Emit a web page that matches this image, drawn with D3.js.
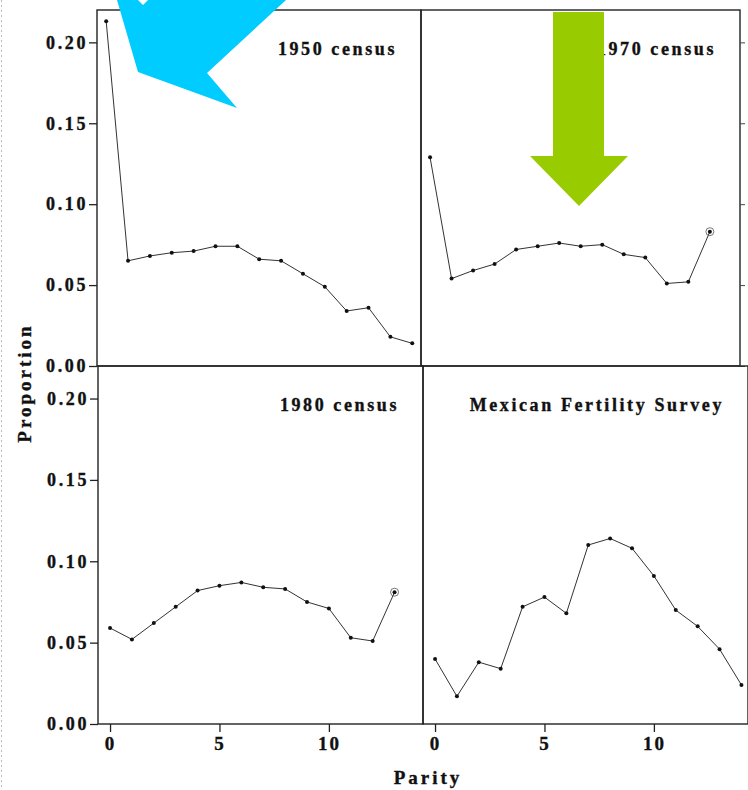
<!DOCTYPE html>
<html lang="en">
<head>
<meta charset="UTF-8">
<title>Parity distributions</title>
<style>
    body { margin: 0; background: #fff; }
    svg text { font-family: "Liberation Serif", "DejaVu Serif", serif; font-weight: bold; fill: #111; stroke: #111; stroke-width: 0.35px; }
</style>
</head>
<body>
<div id="chart"></div>
<script src="https://cdnjs.cloudflare.com/ajax/libs/d3/7.8.5/d3.min.js"></script>
<script>
// data
const parity = [0, 1, 2, 3, 4, 5, 6, 7, 8, 9, 10, 11, 12, 13, 14];
const census1950 = [0.213, 0.065, 0.068, 0.070, 0.071, 0.074, 0.074, 0.066, 0.065, 0.057, 0.049, 0.034, 0.036, 0.018, 0.014];
const census1970 = [0.129, 0.054, 0.059, 0.063, 0.072, 0.074, 0.076, 0.074, 0.075, 0.069, 0.067, 0.051, 0.052, 0.083];
const census1980 = [0.059, 0.052, 0.062, 0.072, 0.082, 0.085, 0.087, 0.084, 0.083, 0.075, 0.071, 0.053, 0.051, 0.081];
const mexicanSurvey = [0.040, 0.017, 0.038, 0.034, 0.072, 0.078, 0.068, 0.110, 0.114, 0.108, 0.091, 0.070, 0.060, 0.046, 0.024];
const panelTitles = ["1950 census", "1970 census", "1980 census", "Mexican Fertility Survey"];
const yTicks = [0, 0.05, 0.10, 0.15, 0.20];
const xTicks = [0, 5, 10];

const W = 748, H = 790;
const svg = d3.select("#chart").append("svg")
    .attr("width", W).attr("height", H);

// page edge (dotted)
svg.append("line")
    .attr("x1", 1.5).attr("x2", 1.5).attr("y1", 0).attr("y2", H)
    .attr("stroke", "#bbb").attr("stroke-dasharray", "2,3");

// panel boxes
const panels = [
    { values: census1950, title: panelTitles[0], x0: 97, x1: 421, y0: 10, y1: 366, xd: [-0.42, 14.4], left: true, bottom: false, ring: false },
    { values: census1970, title: panelTitles[1], x0: 421, x1: 740, y0: 10, y1: 366, xd: [-0.42, 14.4], left: false, bottom: false, ring: true },
    { values: census1980, title: panelTitles[2], x0: 98, x1: 423, y0: 366, y1: 724, xd: [-0.55, 14.3], left: true, bottom: true, ring: true },
    { values: mexicanSurvey, title: panelTitles[3], x0: 423, x1: 748, y0: 366, y1: 724, xd: [-0.55, 14.3], left: false, bottom: true, ring: false }
];

panels.forEach(p => {
    const x = d3.scaleLinear().domain(p.xd).range([p.x0, p.x1]);
    const y = d3.scaleLinear().domain([0, 0.22]).range([p.y1, p.y0]);
    const g = svg.append("g");

    g.append("rect")
        .attr("x", p.x0).attr("y", p.y0)
        .attr("width", p.x1 - p.x0).attr("height", p.y1 - p.y0)
        .attr("fill", "none").attr("stroke", "#222").attr("stroke-width", 1.4);

    if (p.left) {
        const ax = g.append("g")
            .attr("transform", `translate(${p.x0},0)`)
            .call(d3.axisLeft(y).tickValues(yTicks).tickSize(8).tickPadding(1).tickFormat(d3.format(".2f")));
        ax.select(".domain").remove();
        ax.selectAll("line").attr("stroke", "#222").attr("stroke-width", 1.3);
        ax.selectAll("text")
            .attr("font-size", 18).attr("letter-spacing", 2.6)
            .attr("fill", "#111").attr("font-family", null);
    } else {
        const ax = g.append("g")
            .attr("transform", `translate(${p.x1},0)`)
            .call(d3.axisRight(y).tickValues(yTicks).tickSize(5).tickFormat(""));
        ax.select(".domain").remove();
        ax.selectAll("line").attr("stroke", "#444");
    }

    if (p.bottom) {
        const ax = g.append("g")
            .attr("transform", `translate(0,${p.y1})`)
            .call(d3.axisBottom(x).tickValues(xTicks).tickSize(8).tickPadding(5));
        ax.select(".domain").remove();
        ax.selectAll("line").attr("stroke", "#222").attr("stroke-width", 1.3);
        ax.selectAll("text")
            .attr("font-size", 19).attr("letter-spacing", 2)
            .attr("fill", "#111").attr("font-family", null);
    }

    const pts = p.values.map((v, i) => [parity[i], v]);
    g.append("path")
        .datum(pts)
        .attr("fill", "none").attr("stroke", "#333").attr("stroke-width", 1)
        .attr("d", d3.line().x(d => x(d[0])).y(d => y(d[1])));

    g.selectAll("circle.pt").data(pts).enter().append("circle")
        .attr("class", "pt")
        .attr("cx", d => x(d[0])).attr("cy", d => y(d[1]))
        .attr("r", 2).attr("fill", "#111");

    if (p.ring) {
        const last = pts[pts.length - 1];
        g.append("circle")
            .attr("cx", x(last[0])).attr("cy", y(last[1]))
            .attr("r", 4).attr("fill", "none").attr("stroke", "#555").attr("stroke-width", 0.8);
    }

    g.append("text")
        .attr("x", p.x1 - 24).attr("y", p.y0 + 45)
        .attr("text-anchor", "end")
        .attr("font-size", 18).attr("letter-spacing", 2.6)
        .text(p.title);
});

// axis titles
svg.append("text")
    .attr("x", 428).attr("y", 784)
    .attr("text-anchor", "middle")
    .attr("font-size", 19).attr("letter-spacing", 3)
    .text("Parity");

svg.append("text")
    .attr("transform", "translate(31,383) rotate(-90)")
    .attr("text-anchor", "middle")
    .attr("font-size", 19).attr("letter-spacing", 3)
    .text("Proportion");

// highlight arrows laid over the figure
const cyanArrow = [[117, 0], [138, 72], [237, 108], [207, 73], [286, 0], [148, 0], [143, 5], [138, 0]];
const greenArrow = [[553, 12], [604, 12], [604, 156], [628, 156], [579, 206], [530, 156], [553, 156]];

svg.append("polygon")
    .attr("points", cyanArrow.map(d => d.join(",")).join(" "))
    .attr("fill", "#00ccff");
svg.append("polygon")
    .attr("points", greenArrow.map(d => d.join(",")).join(" "))
    .attr("fill", "#99cc00");
</script>
</body>
</html>
